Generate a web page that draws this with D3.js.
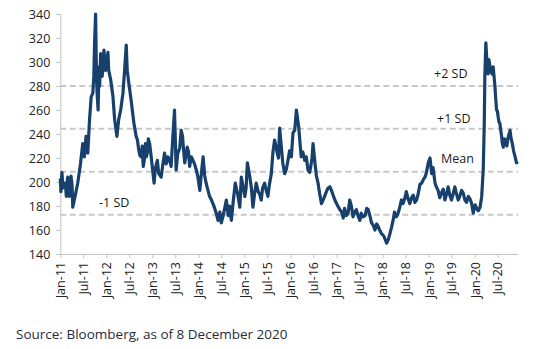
<!DOCTYPE html>
<html>
<head>
<meta charset="utf-8">
<script src="https://cdn.jsdelivr.net/npm/d3@7"></script>
<style>
  html, body { margin: 0; padding: 0; background: #fff; }
  svg { display: block; }
  text { font-family: "Open Sans", "Noto Sans", sans-serif; }
</style>
</head>
<body>
<svg id="chart" width="540" height="349"></svg>
<script>
// ---- data ----
const dates = [
  "2011-01-01","2011-01-06","2011-01-14","2011-01-22","2011-02-05","2011-02-18","2011-03-01","2011-03-14","2011-03-27","2011-04-10",
  "2011-04-28","2011-05-19","2011-06-10","2011-06-28","2011-07-11","2011-07-24","2011-08-07","2011-08-21","2011-09-03","2011-09-16",
  "2011-09-24","2011-09-30","2011-10-08","2011-10-15","2011-10-20","2011-10-28","2011-11-09","2011-11-17","2011-11-29","2011-12-13",
  "2011-12-26","2012-01-09","2012-01-20","2012-02-05","2012-02-23","2012-03-07","2012-03-25","2012-04-08","2012-04-24","2012-05-12",
  "2012-05-25","2012-06-07","2012-06-15","2012-06-28","2012-07-16","2012-08-07","2012-08-25","2012-09-14","2012-10-04","2012-10-20",
  "2012-11-06","2012-11-21","2012-12-10","2012-12-22","2013-01-14","2013-02-09","2013-03-11","2013-04-07","2013-05-03","2013-05-29",
  "2013-06-12","2013-06-25","2013-07-08","2013-07-21","2013-08-17","2013-09-01","2013-09-14","2013-10-04","2013-10-23","2013-11-19",
  "2013-12-15","2014-01-12","2014-02-07","2014-03-03","2014-03-30","2014-04-26","2014-06-05","2014-07-14","2014-08-10","2014-09-19",
  "2014-10-20","2014-11-25","2014-12-07","2015-01-04","2015-01-24","2015-02-13","2015-03-09","2015-04-04","2015-05-14","2015-06-10",
  "2015-07-06","2015-08-02","2015-08-28","2015-09-18","2015-10-07","2015-10-25","2015-11-16","2015-12-12","2016-01-08","2016-01-21",
  "2016-02-04","2016-02-17","2016-03-06","2016-03-26","2016-04-23","2016-05-19","2016-06-10","2016-06-28","2016-07-16","2016-08-07",
  "2016-09-03","2016-10-12","2016-11-09","2016-11-21","2016-12-18","2017-01-27","2017-02-23","2017-03-19","2017-04-15","2017-05-11",
  "2017-06-07","2017-07-04","2017-07-29","2017-09-09","2017-10-05","2017-11-01","2017-11-27","2017-12-23","2018-02-02","2018-02-28",
  "2018-03-25","2018-04-20","2018-05-17","2018-06-12","2018-07-08","2018-08-05","2018-09-01","2018-09-27","2018-10-24","2018-11-06",
  "2018-12-03","2018-12-29","2019-01-12","2019-01-25","2019-02-21","2019-03-17","2019-04-13","2019-05-10","2019-06-05","2019-07-01",
  "2019-07-28","2019-08-24","2019-09-19","2019-10-16","2019-11-12","2019-12-08","2019-12-21","2020-01-17","2020-02-13","2020-02-26",
  "2020-03-09","2020-03-17","2020-03-22","2020-03-30","2020-04-12","2020-04-23","2020-05-09","2020-05-27","2020-06-10","2020-06-23",
  "2020-07-06","2020-07-19","2020-08-02","2020-08-15","2020-09-03","2020-09-24","2020-10-08","2020-10-26","2020-11-17","2020-12-08"
];
const values = [
  203,192,208,195,199,188,204,188,205,179,
  188,199,215,232,221,238,224,252,271,274,
  288,316,340,288,274,260,280,307,288,310,
  293,304,293,285,271,252,238,252,260,274,
  293,314,293,282,268,249,238,227,221,213,
  232,224,232,221,199,218,204,224,221,213,
  238,260,210,224,243,232,216,229,213,218,
  210,193,221,199,188,182,168,171,185,168,
  199,179,204,188,216,204,179,199,185,199,
  188,207,235,224,245,224,207,218,221,241,
  243,260,246,221,218,210,213,232,213,199,
  182,192,196,193,185,177,170,172,185,171,
  177,168,171,177,166,160,163,157,149,157,
  168,171,179,182,192,182,189,185,198,199,
  204,216,220,207,199,193,191,185,196,185,
  196,185,193,185,188,182,174,178,179,188,
  210,246,288,316,293,302,293,296,280,260,
  254,249,238,229,235,238,243,232,221,217
];
// extra in-between readings (finer wiggles of the daily series)
const detailDates = [
  "2011-02-12","2011-02-25","2011-03-20","2011-04-04",
  "2011-11-04","2011-11-23","2011-12-06","2011-12-19","2012-01-02","2012-01-14",
  "2012-09-04","2012-09-24","2012-10-12","2012-10-28","2012-11-13","2012-11-29",
  "2013-01-25","2013-02-20","2013-03-25","2013-04-20","2013-05-15","2013-08-05","2013-08-28","2013-09-22","2013-10-14","2013-11-05","2013-12-01","2013-12-28",
  "2014-01-25","2014-02-20","2014-03-15","2014-04-10","2014-05-10","2014-05-22","2014-06-20","2014-07-01","2014-07-28","2014-08-25","2014-09-05","2014-10-05","2014-11-08",
  "2015-01-14","2015-02-25","2015-03-22","2015-04-20","2015-05-01","2015-05-25","2015-06-22","2015-07-18","2015-08-15","2015-09-08","2015-09-28","2015-11-02","2015-11-28","2015-12-25",
  "2016-04-08","2016-05-05","2016-06-01","2016-06-20","2016-07-25","2016-08-20","2016-09-20","2016-10-25",
  "2017-01-10","2017-02-10","2017-03-05","2017-04-02","2017-04-28","2017-05-25","2017-06-20","2017-07-15","2017-08-15","2017-08-28","2017-09-22","2017-10-18","2017-11-15","2017-12-08","2018-01-10","2018-01-22",
  "2018-02-15","2018-03-12","2018-04-05","2018-05-01","2018-05-30","2018-06-25","2018-07-22","2018-08-18","2018-09-14","2018-10-10","2018-11-20","2018-12-15",
  "2019-02-05","2019-03-03","2019-03-30","2019-04-27","2019-05-23","2019-06-18","2019-07-14","2019-08-10","2019-09-05","2019-10-02","2019-10-29","2019-11-25",
  "2020-01-05","2020-01-30","2020-04-05","2020-04-17","2020-05-01","2020-05-18","2020-06-02","2020-06-16","2020-06-30","2020-07-12","2020-07-25","2020-08-08","2020-08-24","2020-09-12","2020-09-30","2020-10-15","2020-11-05","2020-11-28"
];
const detailValues = [
  196,201,193,198,
  296,298,295,302,297,308,
  235,222,230,218,221,236,
  212,207,215,215,219,228,238,221,225,221,215,204,
  208,205,194,186,178,174,175,166,178,172,180,185,190,
  195,195,190,192,190,195,193,198,225,230,220,215,210,226,
  225,221,208,220,205,190,186,195,
  180,175,178,174,180,175,172,174,172,178,172,164,165,160,155,152,
  152,162,175,173,185,186,186,187,183,190,202,208,
  212,196,187,194,190,189,190,190,188,191,183,186,
  181,176,305,290,297,290,289,270,259,250,244,232,236,230,240,237,226,216
];
const sdLevels = [280.1, 244.3, 208.5, 172.7];
const sdLabels = ["+2 SD", "+1 SD", "Mean", "-1 SD"];
const yTicks = [140, 160, 180, 200, 220, 240, 260, 280, 300, 320, 340];
const xDomain = ["2011-01-01", "2020-12-10"];
const sourceText = "Source: Bloomberg, as of 8 December 2020";

// ---- drawing ----
const parse = d3.timeParse("%Y-%m-%d");
const data = dates.map((d, i) => ({ date: parse(d), value: values[i] }))
  .concat(detailDates.map((d, i) => ({ date: parse(d), value: detailValues[i] })))
  .sort((a, b) => a.date - b.date);

const svg = d3.select("#chart");
const x = d3.scaleTime().domain(xDomain.map(parse)).range([60.3, 518]);
const y = d3.scaleLinear().domain([140, 340]).range([254, 14]);

const axisColor = "#c4c4c4";

// SD reference lines
svg.append("g").selectAll("line").data(sdLevels).join("line")
  .attr("x1", x.range()[0]).attr("x2", x.range()[1])
  .attr("y1", d => y(d)).attr("y2", d => y(d))
  .attr("stroke", "#c8c8c8").attr("stroke-width", 2)
  .attr("stroke-dasharray", "6,3.5");

// Y axis
const yAxis = svg.append("g").attr("transform", `translate(${x.range()[0]},0)`)
  .call(d3.axisLeft(y).tickValues(yTicks).tickSize(4).tickPadding(6).tickFormat(d3.format("d")));
yAxis.select(".domain").attr("stroke", axisColor);
yAxis.selectAll(".tick line").attr("stroke", axisColor);
yAxis.selectAll("text").attr("font-size", 12.5).attr("fill", "#222")
  .attr("font-family", "'Open Sans', sans-serif");

// X axis
const xTicks = d3.timeMonth.every(6).range(parse("2011-01-01"), parse("2020-12-01"));
const xAxis = svg.append("g").attr("transform", `translate(0,${y.range()[0]})`)
  .call(d3.axisBottom(x).tickValues(xTicks).tickSize(4).tickSizeOuter(0).tickFormat(d3.timeFormat("%b-%y")));
xAxis.select(".domain").attr("stroke", axisColor);
xAxis.selectAll(".tick line").attr("stroke", axisColor);
xAxis.selectAll("text")
  .attr("font-size", 12.5).attr("fill", "#222")
  .attr("font-family", "'Open Sans', sans-serif")
  .attr("transform", "rotate(-90)")
  .attr("text-anchor", "end")
  .attr("x", -8).attr("y", 0).attr("dy", "0.35em");

// Series line
svg.append("path").datum(data)
  .attr("fill", "none")
  .attr("stroke", "#17416c")
  .attr("stroke-width", 3.2)
  .attr("stroke-linejoin", "round")
  .attr("d", d3.line().x(d => x(d.date)).y(d => y(d.value)));

// Annotations
const labelPos = [
  { x: 434, dy: -8 },
  { x: 437, dy: -6 },
  { x: 441, dy: -9 },
  { x: 99, dy: -8 }
];
svg.append("g").selectAll("text").data(sdLevels).join("text")
  .attr("x", (d, i) => labelPos[i].x)
  .attr("y", (d, i) => y(d) + labelPos[i].dy)
  .attr("font-size", 12.5).attr("fill", "#1a1a1a")
  .text((d, i) => sdLabels[i]);

// Source
svg.append("text").attr("x", 16).attr("y", 339)
  .attr("font-size", 13.5).attr("fill", "#1f2d3d")
  .text(sourceText);
</script>
</body>
</html>
